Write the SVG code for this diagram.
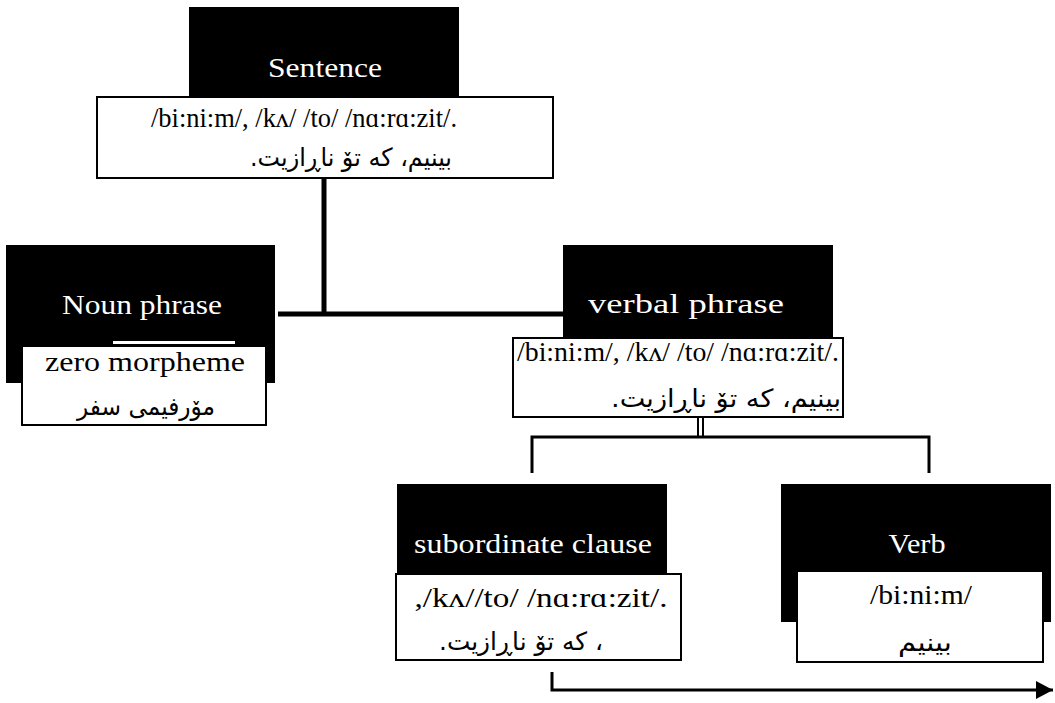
<svg xmlns="http://www.w3.org/2000/svg" width="1055" height="703" viewBox="0 0 1055 703">
<style>
.blk{fill:#000}
.wht{fill:#fff;stroke:#000;stroke-width:2}
.h{font-family:"Liberation Serif","Times New Roman",serif;font-size:27px;fill:#fff;text-anchor:middle}
.b{font-family:"Liberation Serif","Times New Roman",serif;font-size:27px;fill:#000;text-anchor:middle}
.ar{font-family:"DejaVu Sans",sans-serif;font-size:25px;fill:#000;text-anchor:middle;direction:rtl}
.c{stroke:#000;fill:none}
</style>
<defs>
<marker id="ah" markerWidth="17" markerHeight="18" refX="17" refY="9" orient="auto" markerUnits="userSpaceOnUse">
<polygon points="0,0 17,9 0,18" fill="#000"/>
</marker>
</defs>
<rect width="1055" height="703" fill="#fff"/>
<g id="connectors">
<line class="c" x1="324" y1="178" x2="324" y2="316" stroke-width="5"/>
<line class="c" x1="278" y1="314" x2="564" y2="314" stroke-width="5"/>
<line class="c" x1="698" y1="417" x2="698" y2="437" stroke-width="2"/>
<line class="c" x1="703" y1="417" x2="703" y2="437" stroke-width="2"/>
<polyline class="c" points="532,473 532,437 929,437 929,473" stroke-width="3"/>
<polyline class="c" points="552,672 552,690 1053,690" stroke-width="3" marker-end="url(#ah)"/>
</g>
<g id="sentence">
<rect class="blk" x="189" y="7" width="270" height="90"/>
<rect class="wht" x="97" y="97" width="456" height="81"/>
<text class="h" x="325" y="77" textLength="114" lengthAdjust="spacingAndGlyphs">Sentence</text>
<text class="b" x="304" y="127" textLength="306" lengthAdjust="spacingAndGlyphs">/bi:ni:m/, /kʌ/ /to/ /nɑ:rɑ:zit/.</text>
<text class="ar" x="351" y="166" textLength="202" lengthAdjust="spacingAndGlyphs">بينيم، كه تۆ ناڕازيت.</text>
</g>
<g id="noun-phrase">
<rect class="blk" x="6" y="245" width="269" height="138"/>
<rect fill="#fff" x="113" y="341" width="122" height="3"/>
<rect class="wht" x="22" y="346" width="244" height="79"/>
<text class="h" x="142" y="314" textLength="160" lengthAdjust="spacingAndGlyphs">Noun phrase</text>
<text class="b" x="145" y="371" textLength="200" lengthAdjust="spacingAndGlyphs">zero morpheme</text>
<text class="ar" x="146" y="415" textLength="138" lengthAdjust="spacingAndGlyphs">مۆرفيمی سفر</text>
</g>
<g id="verbal-phrase">
<rect class="blk" x="563" y="245" width="270" height="93"/>
<rect class="wht" x="513" y="338" width="330" height="79"/>
<text class="h" x="686" y="313" textLength="196" lengthAdjust="spacingAndGlyphs">verbal phrase</text>
<text class="b" x="678" y="361" textLength="322" lengthAdjust="spacingAndGlyphs">/bi:ni:m/, /kʌ/ /to/ /nɑ:rɑ:zit/.</text>
<text class="ar" x="726" y="407" textLength="230" lengthAdjust="spacingAndGlyphs">بينيم، كه تۆ ناڕازيت.</text>
</g>
<g id="subordinate-clause">
<rect class="blk" x="397" y="484" width="270" height="89"/>
<rect class="wht" x="396" y="574" width="285" height="86"/>
<text class="h" x="533" y="553" textLength="238" lengthAdjust="spacingAndGlyphs">subordinate clause</text>
<text class="b" x="541" y="607" textLength="253" lengthAdjust="spacingAndGlyphs">,/kʌ//to/ /nɑ:rɑ:zit/.</text>
<text class="ar" x="521" y="650" textLength="164" lengthAdjust="spacingAndGlyphs">، كه تۆ ناڕازيت.</text>
</g>
<g id="verb">
<rect class="blk" x="781" y="484" width="270" height="138"/>
<rect class="wht" x="797" y="571" width="246" height="91"/>
<text class="h" x="917" y="553" textLength="57" lengthAdjust="spacingAndGlyphs">Verb</text>
<text class="b" x="921" y="604" textLength="102" lengthAdjust="spacingAndGlyphs">/bi:ni:m/</text>
<text class="ar" x="925" y="651" textLength="54" lengthAdjust="spacingAndGlyphs">بينيم</text>
</g>
</svg>
